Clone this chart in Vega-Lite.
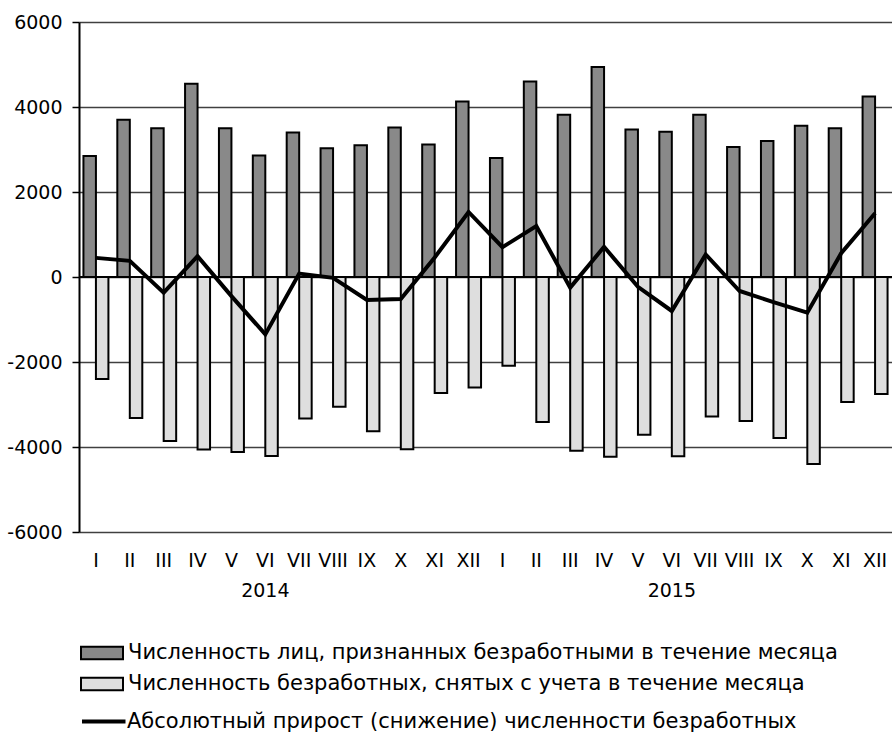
{
  "$schema": "https://vega.github.io/schema/vega-lite/v6.json",
  "width": 813,
  "height": 510,
  "autosize": {"type": "none"},
  "padding": {"left": 79, "top": 22, "right": 0, "bottom": 208},
  "background": "white",
  "config": {
    "font": "DejaVu Sans",
    "view": {"stroke": null},
    "axis": {"labelColor": "black", "labelFontSize": 19, "labelFont": "DejaVu Sans", "title": null},
    "legend": {"labelColor": "black", "labelFontSize": 21, "labelFont": "DejaVu Sans", "padding": 0, "labelLimit": 0}
  },
  "data": {
    "values": [
      {"m": "I 2014", "p": 2850, "s": -2400, "d": 450},
      {"m": "II 2014", "p": 3700, "s": -3320, "d": 380},
      {"m": "III 2014", "p": 3500, "s": -3860, "d": -370},
      {"m": "IV 2014", "p": 4550, "s": -4060, "d": 490},
      {"m": "V 2014", "p": 3500, "s": -4120, "d": -450},
      {"m": "VI 2014", "p": 2860, "s": -4210, "d": -1350},
      {"m": "VII 2014", "p": 3400, "s": -3330, "d": 80},
      {"m": "VIII 2014", "p": 3030, "s": -3050, "d": -20},
      {"m": "IX 2014", "p": 3100, "s": -3630, "d": -540},
      {"m": "X 2014", "p": 3520, "s": -4050, "d": -520},
      {"m": "XI 2014", "p": 3120, "s": -2730, "d": 460},
      {"m": "XII 2014", "p": 4130, "s": -2600, "d": 1530},
      {"m": "I 2015", "p": 2800, "s": -2090, "d": 700},
      {"m": "II 2015", "p": 4600, "s": -3410, "d": 1200},
      {"m": "III 2015", "p": 3820, "s": -4090, "d": -250},
      {"m": "IV 2015", "p": 4940, "s": -4230, "d": 710},
      {"m": "V 2015", "p": 3470, "s": -3710, "d": -230},
      {"m": "VI 2015", "p": 3420, "s": -4220, "d": -800},
      {"m": "VII 2015", "p": 3815, "s": -3280, "d": 530},
      {"m": "VIII 2015", "p": 3060, "s": -3390, "d": -330},
      {"m": "IX 2015", "p": 3200, "s": -3790, "d": -590},
      {"m": "X 2015", "p": 3560, "s": -4400, "d": -840},
      {"m": "XI 2015", "p": 3500, "s": -2940, "d": 560},
      {"m": "XII 2015", "p": 4250, "s": -2750, "d": 1500}
    ]
  },
  "layer": [
    {
      "transform": [{"fold": ["p", "s"], "as": ["k", "v"]}],
      "mark": {"type": "bar", "stroke": "black", "strokeWidth": 2},
      "encoding": {
        "x": {
          "field": "m", "type": "nominal", "sort": null,
          "scale": {"paddingInner": 0.2625, "paddingOuter": 0.131},
          "axis": {
            "domain": false, "ticks": false, "grid": false,
            "labelAngle": 0, "labelPadding": 19, "labelLineHeight": 30,
            "labelOverlap": false, "labelFlush": false, "labelBaseline": "top",
            "labelExpr": "split(datum.value, ' ')[0] == 'VI' ? ['VI', split(datum.value, ' ')[1]] : split(datum.value, ' ')[0]"
          }
        },
        "xOffset": {"field": "k", "type": "nominal", "scale": {"domain": ["p", "s"], "paddingInner": 0, "paddingOuter": 0}},
        "y": {
          "field": "v", "type": "quantitative",
          "scale": {"domain": [-6000, 6000], "nice": false},
          "axis": {
            "values": [-6000, -4000, -2000, 0, 2000, 4000, 6000],
            "labelExpr": "toString(datum.value)",
            "grid": true, "gridColor": "#404040", "gridWidth": 1.5,
            "domainColor": "black", "domainWidth": 2,
            "tickColor": "black", "tickWidth": 1.5, "tickSize": 7,
            "labelPadding": 10
          }
        },
        "fill": {
          "field": "k", "type": "nominal",
          "scale": {"domain": ["p", "s"], "range": ["#898989", "#dedede"]},
          "legend": {
            "title": null, "orient": "none", "legendX": 1, "legendY": 616,
            "symbolType": "M-1,-0.45H2V0.45H-1Z", "symbolSize": 784,
            "symbolStrokeColor": "black", "symbolStrokeWidth": 2, "symbolOpacity": 1,
            "labelOffset": 18, "rowPadding": 5,
            "labelExpr": "datum.value == 'p' ? 'Численность лиц, признанных безработными в течение месяца' : 'Численность безработных, снятых с учета в течение месяца'"
          }
        }
      }
    },
    {
      "data": {"values": [{"z": 0}]},
      "mark": {"type": "rule", "color": "black", "strokeWidth": 2},
      "encoding": {"y": {"field": "z", "type": "quantitative"}}
    },
    {
      "mark": {"type": "line", "strokeWidth": 4, "strokeJoin": "miter"},
      "encoding": {
        "x": {"field": "m", "type": "nominal", "sort": null},
        "y": {"field": "d", "type": "quantitative"},
        "stroke": {
          "datum": "Абсолютный прирост (снижение) численности безработных",
          "scale": {"range": ["black"]},
          "legend": {
            "title": null, "orient": "none", "legendX": 1, "legendY": 683,
            "symbolType": "M-1,0H2", "symbolSize": 841, "symbolStrokeWidth": 4,
            "labelOffset": 14
          }
        }
      }
    }
  ]
}
